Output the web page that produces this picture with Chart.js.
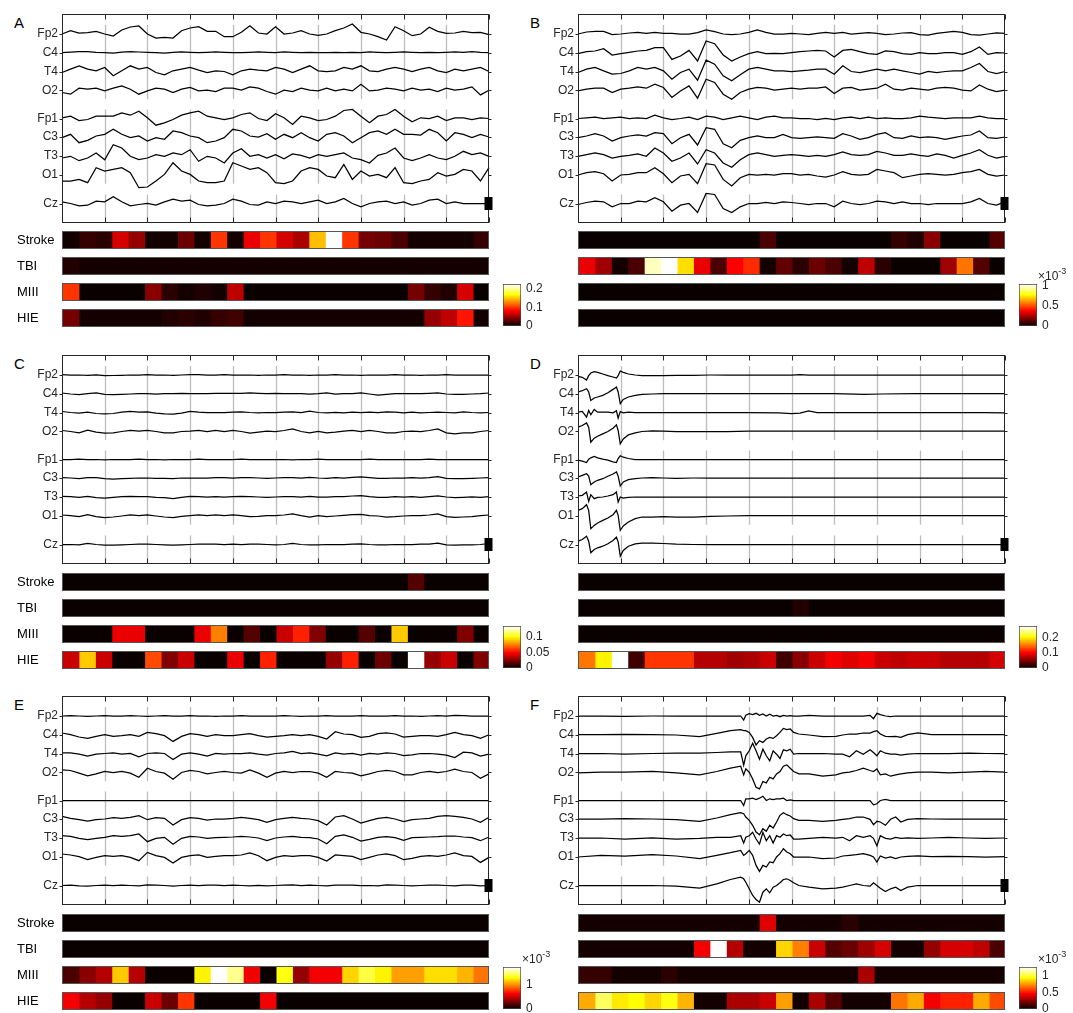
<!DOCTYPE html>
<html>
<head>
<meta charset="utf-8">
<script src="https://cdn.jsdelivr.net/npm/chart.js@4.4.1/dist/chart.umd.min.js"></script>
<style>
  body { margin:0; background:#fff; }
  #fig { position:relative; width:1073px; height:1013px; overflow:hidden; font-family:'Liberation Sans', Arial, sans-serif; }
  #fig canvas { position:absolute; }
  .letter { position:absolute; font-size:15px; line-height:15px; color:#000; }
</style>
</head>
<body>
<div id="fig"></div>
<script>
//
// Labels
var channels = ['Fp2', 'C4', 'T4', 'O2', 'Fp1', 'C3', 'T3', 'O1', 'Cz'];
var classes = ['Stroke', 'TBI', 'MIII', 'HIE'];

//
// Sample times (0..100 across the window)
var tUniform = [0,2,4,6,8,10,12,14,16,18,20,22,24,26,28,30,32,34,36,38,40,42,44,46,48,50,52,54,56,58,60,62,64,66,68,70,72,74,76,78,80,82,84,86,88,90,92,94,96,98,100];
var tD = [0,1,2,2.5,3,3.8,4.6,5.8,7,8.2,9,9.4,9.9,10.6,11.8,13.4,15,17.4,20,23,27,31,35,40,47,50,52,54,56,60,67,71,79,87,95,100];
var tF = [0,5.4,11,17.4,23,28.5,32.5,35.7,38.1,38.8,39.3,40.1,40.9,41.7,42.5,43.3,44.1,44.9,45.7,46.5,47.3,48.1,48.9,49.7,50.5,51.7,54.1,57.3,60.4,62,63.6,65.2,66.8,68.4,69.2,70,70.8,72,73.2,74.4,75.6,77.2,79.6,82.8,86.8,91.5,95.5,100];

//
// EEG traces (channel order Fp2, C4, T4, O2, Fp1, C3, T3, O1, Cz)
var eegA = [
  [0,3.3,1,1.3,2.7,0,-2,4,7,8,0,-4,-3.3,-4,3.3,6,7.3,2.7,2.7,-2.7,-2.7,1.7,8.3,1,0,7.3,0,1,3.3,0,-1.3,0,3.3,6,10,1.7,0,-2.7,-6,7.3,3.3,-1.7,0,6.7,2.7,0.7,1,2.7,1.3,1.7,-0.7],
  [0,0.5,1,1,0.3,0,-0.3,0.5,1,0.7,0.3,0,-0.3,0.3,0.7,0.3,0,0.3,0.7,0.3,0,0,0.3,0.7,0.3,0,0.7,0.3,0,0.3,0,0,0.3,0,0.3,0,0.7,0.3,0,0.3,0.7,0.3,0,0.3,0,0.3,0.7,0.3,1,0.3,0],
  [-1,2.3,5.7,2.3,0.7,4,-4.3,0.7,5.7,2.3,4,-1,-3.3,0.7,2.3,4,1.3,-1,0.7,0,-3.3,0.7,2.3,1.3,0.7,4,2.3,-1,2.3,5.7,0.7,0,0.7,4,2.3,5.7,0.7,0,2.3,4,2.3,0,2.3,4,0.7,-1,2.3,0.7,2.3,4,0],
  [-2.3,-4,2,1,2,-0.7,2,4.3,1,-4,-0.7,2,1,-2.3,1,2.7,-0.7,0,-1.3,2,2,0,3.3,2,-1.3,-4,0,-1.3,2,0,-0.7,2,-0.7,1,-0.7,6,-0.7,0,2,1,-0.7,2,0,1,-1.3,2,0,1,3.3,-4.7,0],
  [0.7,2.3,-2,-1,2.3,2.3,2.3,5.7,3.3,7.3,0.7,-6.7,-4.3,-1,3.3,5.7,7.3,2.3,0.7,-1,0.7,4,5.7,0,-2,4.7,0.7,-6,2.3,0.7,-2,-1,2.3,8,9,2.3,-4.3,2.3,4,9,2.3,-3.3,0.7,0,2.3,-2,0.7,0.7,-1,0.7,0],
  [-0.7,2.7,-5.7,-3.3,1,2.7,7.7,2.7,-0.7,1,-4,-0.7,-2.3,6,4.3,1,-0.7,-5.7,-4,-0.7,7.7,6,1,0,3.3,-2.3,2.7,-0.7,4.3,-0.7,-4,2.7,4.3,1,-5.7,-0.7,4.3,6,2.7,7.7,2.7,2.7,2,7.7,4.3,-4,4.3,2.7,-0.7,2.7,0],
  [-2,-0.3,-4.7,-2,3,-3.7,11.3,8,-0.3,-3.7,-2,1.3,-0.3,3,1.3,6.3,-5.3,-0.3,-2,-7,3,7.3,-0.3,1.3,-2,1.3,-2.7,2,0.7,-2,1.3,-0.3,1.3,3,-2,-3.7,-7,0.7,3,8,-2,-4.7,-2,1.3,-2,-3.7,-0.3,4.7,1.3,3,-0.3],
  [-6.3,-6.3,-4.7,-8,7,3.7,5.3,7,2,-13,-12.3,-6.3,0.3,12,3.7,0.3,-6.3,-8,-8,-6.3,12,8.7,5.3,7,2,-8,-9,-6.3,3.7,7,5.3,-1.3,-3,10.3,-4.7,3.7,-1.3,0.3,-3,7,-8,-9,-6.3,-4.7,2,-1.3,0.3,5.3,3.7,-6.3,7],
  [1.7,0,-2.3,-1.7,2.3,1.7,6.7,1.7,-2.3,-1,0,-1.7,1.7,4.3,2.3,3.3,-1,-2.3,-1.7,0,4.3,2.3,-1,-1.7,1.7,0,2.3,1.7,0,1.7,3.3,0,1.7,5,0,-3.3,0,1.7,2.3,0,1.7,-1.7,0,3.3,4.3,0,1.7,0,0,0,0]
];
var eegB = [
  [0,2,2.7,2.7,-0.7,0,1,1.7,0.7,1.7,0.7,0.7,0,0,1.3,4,2.3,0,-0.7,0,1.7,4,1.7,0,0,0.7,0,-0.7,0.7,1.7,0.7,1.7,0,0.7,1.3,0.7,-0.7,0,1,1.3,-0.7,-1,0.7,1.7,2.7,1.7,-0.7,-1,0,1,0.7],
  [-1,1,1.7,4,-2.3,-1,0.3,1.7,2.3,5,5,-6.7,-3.3,2.3,-8.3,11.7,9,-2.3,-8.3,-4.3,-1,1,-1,-0.7,-1,0,1,1.7,2.3,1.7,-4.3,2.3,3.3,1,-1,-1.7,1.7,1,-1,-1.7,0,-1,-1,0,0,-1.7,1,5.7,-1.7,0,-0.3],
  [-1,2.3,4,0.7,-2.7,-2,0.7,4,2.3,4,0.7,-7.7,-1,2.3,-8.7,11.3,7.3,-4.3,-9.3,-3.3,2.3,4,2.3,0.7,0.7,0,0.7,1.3,2.3,2.3,-2.7,5.7,0,-1,0.7,2.3,0.7,2.3,0.7,-1,-2.7,0,-1,0,0.7,0.7,4,8,0,-2,0],
  [-0.7,1,2,2,-2.3,1,2,3.3,2,6,2.7,-7.3,-0.7,4.3,-8,11,7.7,-4,-9,-2.3,1,2.7,2,0,1,2,1,2,2,3.3,-3.3,2,2.7,0,1,2,6,1,0,2,1,0,2,2.7,2,0,-0.7,5.3,1,-1.3,0],
  [0,0.7,1.3,0,0.7,1.3,0,0.7,0,3.3,0.7,-1,0,1.3,-1,2.3,1.3,-1,0.7,2.3,0.7,-1,1.3,2.3,0.7,0.7,0,0,-1,0,-1,0.7,1.3,0,1.3,0,0.7,0,0,0.7,2.3,1.3,0.7,0,0.7,0.7,0.7,2.3,0.7,0,0],
  [-0.7,1,3.3,1,-4,-0.7,1,2,1,4.3,3.3,-6.7,-0.7,2.7,-8,9.3,7.7,-6.7,-10.7,-3.3,-0.7,1,-0.7,-0.7,2.7,-0.7,-1.3,-0.7,0,-0.7,-1.3,3.3,1,-2.3,-0.7,2.7,4.3,-0.7,-1.3,1,-0.7,0,-0.7,-2.3,-0.7,1,2,6,-0.7,-1.3,0],
  [-0.3,1.3,3,1.3,-2,-0.3,0.7,2,-0.3,8,3,-5.3,-2,3,-8,6.3,3,-7,-11.3,-3.7,1.3,3,1.3,-0.3,0.7,1.3,0.7,-0.3,0.7,-0.3,1.3,4,1.3,0.7,1.3,4.7,3,0.7,0.7,2,0.7,-0.3,2,0.7,-2,0.7,3,6.3,0.7,-2,-0.3],
  [-0.3,2,3,1,-6.3,-0.3,0.3,2,2,7,1,-8,-1.3,0.3,-9,11,9.7,-4.7,-11.3,-3,0.3,-0.3,0.3,-0.3,1,1,-0.3,0.3,-1.3,-2.3,-0.3,3,0.3,-0.3,0.3,5.3,3.7,2,-3,-1.3,0.3,1,0.3,-0.3,0.3,2,3,5.3,0.3,-1.3,-0.3],
  [-1,1,2.3,1.7,-3.3,0,0,2.3,1.7,5.7,1.7,-7.7,-1.7,0,-9,10,9,-5,-9,-3.3,0,0,1,0,1.7,1,0,-1,0,0,-3.3,2.3,0,-1,0,2.3,1.7,0,1.7,0,0,-1,0,0,0,0,1.7,5,0,-1.7,1.7]
];
var eegC = [
  [0.3,0,0,-0.3,0,-0.7,-0.5,-0.3,0,0,0.3,0,0,-0.3,0,0.3,0.3,0,0,0.3,0,0,0,-0.3,0,0,0.3,0,0,-0.3,0,0,0.3,0,0,-0.3,0,0,0,0.3,0,0,-0.3,0,0,0.3,0,0,0,0,0],
  [0.7,-0.3,-1,0,0.7,-0.7,-1,-0.7,-0.3,0,0,-0.3,0,0,0.3,0,0,0,0.3,0.3,0.3,0.3,0.7,0.3,0,0.3,0,0,0,-0.3,0,0.7,-0.3,0,0,0.7,-0.3,-1.3,-0.7,0,0,0,0,0.3,0.7,-0.3,-0.7,-0.7,-0.3,0,0.7],
  [1,0,-0.7,0.3,-1,-1.3,-1,0.3,1,0.3,0.7,-0.7,-1.3,-1.7,-0.7,1,0.3,0,0,0,0.3,0.7,0,-0.3,0,0,0.3,0.7,0,1.3,0,-0.3,0,-0.3,0.3,0,0.3,0,0.7,0.3,-0.3,0.3,-0.3,0,0.3,0,-0.3,0.7,0,-0.3,0],
  [0.7,-0.3,-1.7,1,-1,-2,-1.7,-0.3,0.7,0,0.7,-0.3,-1.7,-1.7,-0.3,0,0.7,-0.3,0.7,-0.3,0.7,-0.3,-2,-1,0,-0.3,0.7,2.3,-0.3,-1.7,-0.3,-1.7,-1,0,0.7,-0.3,0.7,-0.3,-1.7,-1.7,-0.3,0,-0.3,0.7,2.3,-1.7,-2.7,-1.7,-1.7,-0.3,0.7],
  [0,0,0.3,0,0,-0.3,0,0,0,0.3,0,0,-0.3,0,0,0,0.3,0,0,0,0,0.3,0,0,0,0,0,-0.3,0,0,0.3,0,0,0,0,0,0.3,0,0,0,0,0,0,0.3,0,0,0,0,0,0,0],
  [0.3,0,-0.7,0.3,0.3,-0.7,-1,-0.7,-0.3,0,0,-0.3,-0.3,-0.7,0,0,0,0,0.3,0.3,0,0.3,0.3,0,-0.3,0,0.3,0.3,0,0.7,0,-0.3,0.3,0,0.7,1,0.3,-0.3,-0.3,0,0,0.3,0,0.3,1.3,-0.3,-0.7,-0.7,-0.3,0,0.3],
  [0.7,0.3,-0.3,0.7,-0.7,-1,-0.3,0.3,0.7,0.3,0.3,-0.3,-0.7,-1.7,-0.3,0.7,0.3,0,0.3,0,0.3,0.7,0.3,0,-0.3,0,0.3,0.3,0,0.7,0,0,0.3,0.3,1,1.3,0.3,-0.3,-0.3,0.3,0,0.3,-0.3,0.3,1,0,-0.7,-0.3,0,-0.3,0.3],
  [0.7,0,-1,1,-1,-2,-1.3,-0.3,0.7,0,0.7,-0.3,-1.3,-2,-0.7,0,0.7,0,0.7,0,0.7,0,-1,-0.7,0,0,0.7,1.7,0,-1.3,0,-1,-0.3,0.3,1,1.3,0,-0.3,-1.3,-1,-0.3,0,0,0.7,1.7,-1,-1.7,-1.3,-1,0,0.7],
  [0,0,-0.3,1,0,-0.7,-0.7,-0.3,0,0.3,0.3,0,-0.3,-0.7,-0.3,0,0.3,0.3,0.3,0,0.3,0,0.3,0.3,0,-0.3,0,1,0,-0.3,-0.3,0,0,0,0.3,0.7,0,-0.3,-0.3,0,0,0,0.3,0.3,1.3,-0.3,-0.7,-0.3,-0.3,0,1]
];
var eegD = [
  [-1.3,-2.3,-5,-0.7,2,3.3,2.7,1,-0.7,-2,-3,-0.7,4,2.7,1,0,-0.7,-0.7,-0.7,-0.3,-0.3,0,0,0,0,0,0.3,0,0,0,0,0,0,0,0,0],
  [1.7,3,5,1.7,-6.7,-4.3,-3.3,-1.7,1,4.3,6.7,1.7,-10,-5.7,-3.3,-1.7,-0.7,-0.3,0,0,0,0,0,0,0,0,0,0,0,0,-0.7,-0.3,0,0,0,0],
  [0.3,1,-4.7,2,-2.3,3,0.3,0.3,0.3,-0.3,1.7,-5.7,1,-0.3,0.3,0,0,0,0,0,0,0,0,0,-0.3,-1,-0.7,1.7,0,0,0,0,0,0,0,-0.3],
  [4,5.7,8.3,4,-11,-7,-5,-2.7,-0.3,3,6.3,0.7,-12.7,-7.7,-3.7,-1.7,-0.3,0.3,0,-0.3,-0.3,-0.3,-0.3,0,0,0,0,0,0,0,0,0,0,0,0,0],
  [-0.7,-1.7,-3,0.3,1.7,3,1.7,0.3,-0.7,-2.3,-3,1,3.7,2.3,1,0,0,0,0,0,0,0,0,0,0,0,0,0,0,0,0,0,0,0,0,0],
  [1,2.7,4.3,2,-6.7,-4,-2.3,-0.7,1.7,4,6,2,-8,-4,-1.7,-0.7,0,0.3,0,-0.3,0,0,0,0,0,0,0,0,0,0,0,0,0,0,0,0],
  [1,1.7,5,-4.3,2.3,-1.7,-0.3,0,1,2.3,5,-5,0,-1,-0.3,0,0,0,0,0,0,0,0,0,0,0,0,0,0,0,0,0,0,0,0,0],
  [5.3,7,11,5.3,-13,-9.7,-7.3,-4.7,-2.3,1,5.3,0.3,-14.7,-10.3,-6.3,-3,-1.3,-1.3,-1,-1.3,-1.3,-0.7,-0.3,0,0,0,0,0,0,0,0,0,0,0,0,0],
  [3.3,5,8.3,3.3,-8.3,-5,-3.3,-1.7,0.7,4,7.3,2.7,-11.7,-6,-1.7,0.7,1.3,1.3,1,0.3,0,0,0,0,0,0,0,0,0,0,0,0,0,0,0,0]
];
var eegE = [
  [0,0.3,0,-0.3,0,0.3,0,0,0.3,0,-0.3,0,0.3,0,0,0.3,0,0,-0.3,0,0,0.3,0,0,0,0,0.3,0,-0.3,0,0,0.3,0,0,0,0.3,0,0,0,0.3,0,0,-0.3,0,0.3,0,0.7,0.3,0,0,0],
  [1.7,0,-2.3,-3.7,-1.7,0,-1.7,-1,0,-1.7,2.3,1,-1,-6.7,-1.7,1,0,-1.7,0,-1,-1,0,1,-1,-2.3,-1.7,-1,0,-1,0,-1.7,-4.3,3,0.7,0,-2.7,-1.7,1,1.7,0.7,-2.3,-1.7,-1,-1,-1.7,0,2.3,0,-1,-3.7,0],
  [0.7,0.7,-0.7,-2.7,-0.7,0,0.7,-0.7,0,-3.3,0,0.7,0,-6,-0.7,0.7,-0.7,-2.7,0,-0.7,0,0,0.7,-0.7,-1.7,0,0.7,2,0,0.7,-0.7,-2.3,0.7,-0.7,0,-1.7,0,-0.7,0.7,0,-2,-1.3,0,0,-0.7,-1.7,-4,1.3,0.7,-2.7,-0.7],
  [2.3,1.7,-1,-3.7,-1.7,0.7,-0.3,0.7,-1,-5,4,0.7,-1,-7,-0.3,1.7,0.7,-1.7,-0.3,0.7,-0.3,-1,2.3,-1,-5,-1,0.7,-0.3,0.7,0.7,-1,-5,0.7,-0.3,-1,-3.7,-1.7,0.7,1.7,0.7,-2.7,-2.7,-0.3,0.7,-0.3,0.7,3,0.7,-0.3,-6,-1.7],
  [0,0,0,0,0,0,0,0,0,0,0,0,0,0,0,0,0,0,0,0,0,0,0,0,0,0,0,0,0,0,0,0,0,0,0,0,0,0,0,0,0,0,0,0,0,0,0,0,0,0,0],
  [2.7,0.7,-0.7,-2,-0.7,0,1.3,0.7,1.7,3.3,-0.7,1.3,0.7,-6,-0.7,1.3,0.7,-1,0,0,0.7,1.7,0.7,-0.7,-3.3,-0.7,0.7,1.7,0.7,0,-1.7,-6,2,3.3,0,-4,-1.7,0.7,1.7,0,-2.7,-0.7,0,0.7,2.7,3.3,2.7,1.7,0,-3.3,1.7],
  [2.3,1.7,-0.3,-1.7,-0.3,0.7,2.3,1.7,2.3,4,-3.7,-0.3,0.7,-6.3,-0.3,1.7,1,-0.3,0.3,0.7,1,1.7,1,0,-2.7,0,1,1.7,0.7,0.3,-1,-5.7,1.7,3,0.7,-3,-1.3,0.7,1.3,0.3,-2.3,0.3,0.7,1,1.3,2,2,1,0.3,-2.7,1],
  [2.7,1.7,0,-3,-0.7,1,0.3,1,-0.7,-4,4.3,1,-0.7,-6.3,-0.7,1,1.7,-0.7,0.3,1,1,1.7,3.7,1,-4,-0.7,1,0.3,1,1,-0.7,-4.3,1.7,1,0.3,-3,-0.7,1.7,2.7,1,-3,-1.7,0.3,1,0.3,1.7,3.7,1,0.3,-5.7,-0.7],
  [0,0.3,-0.3,-0.7,0,0.3,0,0.3,0,-0.3,0.7,0.3,0,-0.7,0,0.3,0,0.3,0.3,0,0.3,0,-0.3,0,-0.3,0,0.3,0.7,0,0.3,0,-0.3,0.3,0.3,0.3,0,0,-0.3,0.7,0.3,0,-0.3,0,0.3,0.3,0,-0.3,0.3,0.3,-0.3,0]
];
var eegF = [
  [0,0,-0.3,0,0,0,0,0,0,-4,0.7,2.3,1.3,2.7,0.7,2,0,1.7,0,0.7,-0.7,0.7,0,0.3,0,0,0.7,0,0,0,0,0,0,0.7,-2.7,2.7,1.3,0,-0.7,0,0,0,0,0,0,0,0,0],
  [0,0,0.3,0,-0.3,-2,1.3,4,5,4,4,2.3,-2.7,-10.3,-6,-7.7,-4.3,-2.7,-3.7,-1,2.3,6.3,5,5.7,2.3,0.7,-0.3,-2,-1.7,-0.3,0.7,0.7,1.7,1.7,3,4,0.7,-1.7,-2,-1.7,-2.7,0,1.7,0,0,0,0,0],
  [0,0,-0.7,0,0.3,0.3,1,1.7,1.7,-11.7,-2.3,2.7,10.3,2.7,-5.7,4.3,-2.3,-7.3,2.7,-0.7,-5,3.7,2.7,4.3,-0.7,0,0,0,-0.7,-0.7,-3.3,2.7,-0.7,3.7,1,-2.3,2.7,0.3,-0.7,-0.7,-1.7,-0.7,0,0,0,0.3,0,0],
  [-0.7,0,0,0.7,-0.7,-2.7,0.7,4,6,-2.7,3.3,0,-6.7,-15,-16.7,-9.3,-10.7,-5,-6.7,-1.7,0.7,6,7.3,4,0.7,-1.7,-1.7,-4,-2.7,-0.7,0,1.7,4,1.7,0.7,3.3,-2.7,-1.7,-4,-2.7,-1.7,-0.7,0,0,-0.7,0,0.7,0],
  [0,0,0,0,0,0,0,0,0,-5,1.7,1.7,2.3,1,2.3,4.3,0,1.7,1,1.7,1.7,2.3,0,0.7,0,0,0,0,0,0,0,0,0,0,-4.3,-3.3,0,1,0,0,0,0,0,0,0,0,0,0],
  [0,0,0.3,0,-0.7,-2.3,1,4.3,6.3,5.3,2,-1.3,-6.3,-13,-15.7,-9.7,-12.3,-6.3,-9,-3,3.7,6.3,4.3,3,0.3,-1.3,-1.3,-2.3,-1.3,-0.3,0.3,2,2,-0.3,-5.7,-2.3,-3,-6.3,-0.3,2,-3,-0.3,0.3,0,0,0,0,0],
  [0,0,-1,0,-1,-0.3,0.7,0.7,2.3,-5,0.7,2.3,5.7,-1,-6,5.7,-2.7,2.3,-5,2.3,0.7,4,2.3,3,-1,-1,-0.3,0.7,0,0.7,-2.7,2.3,0.7,2.3,-0.3,-7.7,2.3,-0.3,-1,0.7,-0.3,0,-0.3,0,0.7,0,-0.3,0],
  [-0.3,1.3,0.7,2,0.7,-2,1.3,4,6.3,1.3,3,6.3,1.3,-8.7,-14.7,-8.7,-10.3,-5.3,-6,-0.3,3,8,4.7,3,-0.3,-0.3,-0.3,-2,-1.3,0.7,1.3,2,3,1.3,-0.3,-5.3,0.7,-1.3,-0.3,-2,-0.3,0.3,0.7,0,0.3,0,-0.3,0],
  [0,0,0,0,-0.7,-2.7,1.7,6,8.3,6.7,3.3,-3.3,-10,-14,-16.7,-6.7,-3.3,-7.3,-1.7,0,2.7,6,6.7,5,2.7,0,-1.7,-3.3,-2.7,-1.7,0,1.7,0,-0.7,2.7,0,-2.7,-6,-3.3,-1.7,-5,-1.7,0,0,0,0,0,0]
];

//
// Class probability maps (26 windows each)
var strokeA = [0.005,0.016,0.014,0.068,0.049,0.005,0.005,0.034,0.004,0.10,0.004,0.075,0.10,0.068,0.056,0.145,0.225,0.10,0.038,0.032,0.022,0.006,0.005,0.005,0.005,0.016];
var tbiA    = [0.01,0.004,0.004,0.004,0.004,0.004,0.004,0.004,0.004,0.004,0.004,0.004,0.004,0.004,0.004,0.004,0.004,0.004,0.004,0.004,0.004,0.004,0.004,0.007,0.004,0.004];
var miiiA   = [0.10,0.003,0.003,0.003,0.003,0.045,0.013,0.004,0.01,0.004,0.062,0.003,0.003,0.003,0.003,0.003,0.003,0.003,0.003,0.003,0.003,0.038,0.016,0.01,0.068,0.003];
var hieA    = [0.038,0.004,0.004,0.004,0.004,0.004,0.01,0.013,0.01,0.016,0.02,0.004,0.004,0.004,0.004,0.004,0.004,0.004,0.004,0.004,0.004,0.004,0.048,0.062,0.088,0.004];

var strokeB = [0.01,0.01,0.01,0.01,0.01,0.01,0.01,0.01,0.01,0.01,0.01,0.1,0.01,0.01,0.01,0.01,0.01,0.01,0.01,0.07,0.04,0.2,0.01,0.01,0.01,0.12];
var tbiB    = [0.34,0.24,0.02,0.1,0.95,1.03,0.71,0.34,0.1,0.38,0.45,0.02,0.13,0.05,0.15,0.1,0.02,0.28,0.05,0.01,0.01,0.01,0.23,0.56,0.12,0.01];
var miiiB   = [0.01,0.01,0.01,0.01,0.01,0.01,0.01,0.01,0.01,0.01,0.01,0.01,0.01,0.01,0.01,0.01,0.01,0.01,0.01,0.01,0.01,0.01,0.01,0.01,0.01,0.01];
var hieB    = [0.01,0.01,0.01,0.01,0.01,0.01,0.01,0.01,0.01,0.01,0.01,0.01,0.01,0.01,0.01,0.01,0.01,0.01,0.01,0.01,0.01,0.01,0.01,0.01,0.01,0.01];

var strokeC = [0.002,0.002,0.002,0.002,0.002,0.002,0.002,0.002,0.002,0.002,0.002,0.002,0.002,0.002,0.002,0.002,0.002,0.002,0.002,0.002,0.002,0.016,0.002,0.002,0.002,0.002];
var tbiC    = [0.002,0.002,0.002,0.002,0.002,0.002,0.002,0.002,0.002,0.002,0.002,0.002,0.002,0.002,0.002,0.002,0.002,0.002,0.002,0.002,0.002,0.002,0.002,0.002,0.002,0.002];
var miiiC   = [0.002,0.002,0.002,0.044,0.044,0.002,0.002,0.002,0.044,0.075,0.002,0.016,0.002,0.038,0.055,0.025,0.002,0.002,0.016,0.002,0.088,0.002,0.002,0.002,0.025,0.002];
var hieC    = [0.038,0.088,0.038,0.002,0.002,0.063,0.025,0.038,0.002,0.002,0.044,0.002,0.055,0.002,0.002,0.002,0.028,0.055,0.002,0.019,0.002,0.134,0.028,0.038,0.002,0.025];

var strokeD = [0.003,0.003,0.003,0.003,0.003,0.003,0.003,0.003,0.003,0.003,0.003,0.003,0.003,0.003,0.003,0.003,0.003,0.003,0.003,0.003,0.003,0.003,0.003,0.003,0.003,0.003];
var tbiD    = [0.003,0.003,0.003,0.003,0.003,0.003,0.003,0.003,0.003,0.003,0.003,0.003,0.003,0.012,0.003,0.003,0.003,0.003,0.003,0.003,0.003,0.003,0.003,0.003,0.003,0.003];
var miiiD   = [0.003,0.003,0.003,0.003,0.003,0.003,0.003,0.003,0.003,0.003,0.003,0.003,0.003,0.003,0.003,0.003,0.003,0.003,0.003,0.003,0.003,0.003,0.003,0.003,0.003,0.003];
var hieD    = [0.15,0.205,0.28,0.026,0.124,0.124,0.126,0.073,0.07,0.063,0.066,0.079,0.026,0.053,0.079,0.098,0.089,0.098,0.079,0.077,0.079,0.082,0.073,0.073,0.07,0.085];

var strokeE = [0.01,0.01,0.01,0.01,0.01,0.01,0.01,0.01,0.01,0.01,0.01,0.01,0.01,0.01,0.01,0.01,0.01,0.01,0.01,0.01,0.01,0.01,0.01,0.01,0.01,0.01];
var tbiE    = [0.01,0.01,0.01,0.01,0.01,0.01,0.01,0.01,0.01,0.01,0.01,0.01,0.01,0.01,0.01,0.01,0.01,0.01,0.01,0.01,0.01,0.01,0.01,0.01,0.01,0.01];
var miiiE   = [0.16,0.32,0.44,1.12,0.44,0.02,0.02,0.02,1.24,1.7,1.49,0.6,0.02,1.3,0.36,0.6,0.6,1.15,1.36,1.24,1.02,1.02,1.19,1.17,1.07,0.92];
var hieE    = [0.6,0.44,0.36,0.02,0.02,0.48,0.24,0.76,0.02,0.02,0.02,0.02,0.6,0.02,0.02,0.02,0.02,0.02,0.02,0.02,0.02,0.02,0.02,0.02,0.02,0.02];

var strokeF = [0.02,0.02,0.02,0.02,0.02,0.02,0.02,0.02,0.02,0.02,0.02,0.41,0.02,0.02,0.02,0.02,0.06,0.02,0.02,0.02,0.02,0.02,0.02,0.02,0.02,0.02];
var tbiF    = [0.02,0.02,0.02,0.02,0.02,0.02,0.02,0.43,1.25,0.33,0.02,0.02,0.84,0.69,0.37,0.15,0.18,0.28,0.39,0.02,0.02,0.26,0.39,0.39,0.34,0.12];
var miiiF   = [0.09,0.09,0.02,0.02,0.02,0.06,0.02,0.02,0.02,0.02,0.02,0.02,0.02,0.02,0.02,0.02,0.02,0.3,0.02,0.02,0.02,0.02,0.02,0.02,0.02,0.02];
var hieF    = [0.78,1.05,0.88,0.92,0.84,0.95,0.79,0.02,0.02,0.3,0.3,0.36,0.76,0.02,0.3,0.15,0.02,0.02,0.02,0.68,0.78,0.44,0.51,0.51,0.78,0.59];

//
// Colorbar tick labels
var cbTicksA = [0, 0.1, 0.2];
var cbTicksB = [0, 0.5, 1];
var cbTicksC = [0, 0.05, 0.1];
var cbTicksD = [0, 0.1, 0.2];
var cbTicksE = [0, 1];
var cbTicksF = [0, 0.5, 1];

var panels = [
    { letter: 'A', col: 0, row: 0, t: tUniform, eeg: eegA, heat: [strokeA, tbiA, miiiA, hieA], ticks: cbTicksA, exp: false },
    { letter: 'B', col: 1, row: 0, t: tUniform, eeg: eegB, heat: [strokeB, tbiB, miiiB, hieB], ticks: cbTicksB, exp: true },
    { letter: 'C', col: 0, row: 1, t: tUniform, eeg: eegC, heat: [strokeC, tbiC, miiiC, hieC], ticks: cbTicksC, exp: false },
    { letter: 'D', col: 1, row: 1, t: tD, eeg: eegD, heat: [strokeD, tbiD, miiiD, hieD], ticks: cbTicksD, exp: false },
    { letter: 'E', col: 0, row: 2, t: tUniform, eeg: eegE, heat: [strokeE, tbiE, miiiE, hieE], ticks: cbTicksE, exp: true },
    { letter: 'F', col: 1, row: 2, t: tF, eeg: eegF, heat: [strokeF, tbiF, miiiF, hieF], ticks: cbTicksF, exp: true }
];

//
// Layout
var COL_X = [62, 578];
var ROW_T = [13.5, 354.8, 696];
var AX_W = 427;
var EEG_H = 209;
var OFFSETS = [20, 38.7, 57.5, 76.2, 104.5, 123, 142, 160.7, 189.5];
var GRID_GROUPS = [[0, 3], [4, 7], [8, 8]];
var SCALE_BAR = 13;
var HEAT_TOP = 213.7, HEAT_PITCH = 26, ROW_THICK = 18, N_WIN = 26;
var CB_TOP = 270.7, CB_H = 42, CB_W = 18;
var FONT = "'Liberation Sans', Arial, sans-serif";

Chart.defaults.font.family = FONT;
Chart.defaults.animation = false;
Chart.defaults.events = [];
Chart.defaults.plugins.legend.display = false;
Chart.defaults.plugins.tooltip.enabled = false;

var fig = document.getElementById('fig');

function makeCanvas(left, top, w, h) {
    var c = document.createElement('canvas');
    c.width = w; c.height = h;
    c.style.left = left + 'px'; c.style.top = top + 'px';
    c.style.width = w + 'px'; c.style.height = h + 'px';
    fig.appendChild(c);
    return c.getContext('2d');
}

// MATLAB "hot" with 64 levels
function hot(f) {
    f = Math.max(0, Math.min(1, f));
    var k = Math.min(64, Math.floor(f * 64) + 1);
    var r = Math.min(1, k / 24), g = Math.max(0, Math.min(1, (k - 24) / 24)), b = Math.max(0, Math.min(1, (k - 48) / 16));
    return 'rgb(' + Math.round(r * 255) + ',' + Math.round(g * 255) + ',' + Math.round(b * 255) + ')';
}

//
// EEG frame: segmented grid, box, ticks, scale bar
var eegFrame = {
    id: 'eegFrame',
    beforeDatasetsDraw: function(chart) {
        var ctx = chart.ctx, a = chart.chartArea, x = chart.scales.x, y = chart.scales.y;
        ctx.save();
        ctx.strokeStyle = '#bdbdbd';
        ctx.lineWidth = 1.3;
        for (var t = 10; t < 100; t += 10) {
            var px = Math.round(x.getPixelForValue(t)) + 0.5;
            GRID_GROUPS.forEach(function(g) {
                var ya = y.getPixelForValue(OFFSETS[g[0]] - 9);
                var yb = g[1] === 8 ? a.bottom : y.getPixelForValue(OFFSETS[g[1]] + 9);
                ctx.beginPath(); ctx.moveTo(px, ya); ctx.lineTo(px, yb); ctx.stroke();
            });
        }
        ctx.restore();
    },
    afterDatasetsDraw: function(chart) {
        var ctx = chart.ctx, a = chart.chartArea, x = chart.scales.x, y = chart.scales.y;
        var L = Math.round(a.left) + 0.5, R = Math.round(a.right) - 0.5, T = Math.round(a.top) + 0.5, B = Math.round(a.bottom) - 0.5;
        ctx.save();
        ctx.strokeStyle = '#262626';
        ctx.lineWidth = 1;
        ctx.strokeRect(L, T, R - L, B - T);
        ctx.beginPath();
        for (var t = 0; t <= 100; t += 10) {
            var px = Math.round(x.getPixelForValue(t)) + 0.5;
            ctx.moveTo(px, T); ctx.lineTo(px, T + 5);
            ctx.moveTo(px, B); ctx.lineTo(px, B - 5);
        }
        OFFSETS.forEach(function(o) {
            var py = Math.round(y.getPixelForValue(o)) + 0.5;
            ctx.moveTo(L - 3, py); ctx.lineTo(L, py);
            ctx.moveTo(R, py); ctx.lineTo(R + 3, py);
        });
        ctx.stroke();
        // scale bar at the end of Cz
        var y0 = y.getPixelForValue(OFFSETS[8] - SCALE_BAR / 2), y1 = y.getPixelForValue(OFFSETS[8] + SCALE_BAR / 2);
        ctx.fillStyle = '#000';
        ctx.fillRect(R - 4, y0, 8, y1 - y0);
        ctx.restore();
    }
};

//
// Heatmap row boxes
var rowBoxes = {
    id: 'rowBoxes',
    afterDatasetsDraw: function(chart) {
        var ctx = chart.ctx, x = chart.scales.x, y = chart.scales.y;
        var l = Math.round(x.getPixelForValue(0)) + 0.5, r = Math.round(x.getPixelForValue(N_WIN)) - 0.5;
        ctx.save();
        ctx.strokeStyle = '#555';
        ctx.lineWidth = 1;
        classes.forEach(function(c, i) {
            var yc = Math.round(y.getPixelForValue(i));
            ctx.strokeRect(l, yc - ROW_THICK / 2 + 0.5, r - l, ROW_THICK - 1);
        });
        ctx.restore();
    }
};

//
// Colorbar exponent label
var cbExponent = {
    id: 'cbExponent',
    afterDraw: function(chart, args, opts) {
        if (!opts.show) return;
        var ctx = chart.ctx, a = chart.chartArea;
        ctx.save();
        ctx.fillStyle = '#262626';
        ctx.textBaseline = 'alphabetic';
        ctx.font = '12px ' + FONT;
        ctx.fillText('\u00d710', a.right + 1, a.top - 4);
        var w = ctx.measureText('\u00d710').width;
        ctx.font = '9px ' + FONT;
        ctx.fillText('-3', a.right + 1 + w, a.top - 10);
        ctx.restore();
    }
};

panels.forEach(function(p) {
    var x0 = COL_X[p.col], T = ROW_T[p.row];

    // panel letter
    var d = document.createElement('div');
    d.className = 'letter';
    d.textContent = p.letter;
    d.style.left = (x0 - 48) + 'px';
    d.style.top = (T + 1) + 'px';
    fig.appendChild(d);

    //
    // EEG traces
    var LABW = 44, PAD = 4;
    var ctxE = makeCanvas(Math.round(x0) - LABW, Math.round(T) - PAD, LABW + AX_W + 12, EEG_H + 2 * PAD);
    new Chart(ctxE, {
        type: 'line',
        data: {
            datasets: p.eeg.map(function(vals, ci) {
                return {
                    data: vals.map(function(v, j) { return { x: p.t[j], y: OFFSETS[ci] - v }; }),
                    borderColor: '#000',
                    borderWidth: 1.25,
                    pointRadius: 0,
                    tension: 0,
                    fill: false
                };
            })
        },
        options: {
            responsive: false,
            clip: false,
            layout: { padding: { left: 0, top: PAD, right: 12, bottom: PAD } },
            scales: {
                x: { type: 'linear', min: 0, max: 100, display: false },
                y: {
                    type: 'linear', min: 0, max: EEG_H, reverse: true,
                    grid: { display: false, drawTicks: false }, border: { display: false },
                    afterBuildTicks: function(s) { s.ticks = OFFSETS.map(function(v) { return { value: v }; }); },
                    afterFit: function(s) { s.width = LABW; s.paddingTop = 0; s.paddingBottom = 0; },
                    ticks: {
                        padding: 4, color: '#262626', font: { size: 12 },
                        callback: function(v, i) { return channels[i]; }
                    }
                }
            }
        },
        plugins: [eegFrame]
    });

    //
    // Class heatmap: one floating bar per window, slightly overlapping the next to avoid seams
    var HLABW = p.col === 0 ? 45 : 0;
    var ctxH = makeCanvas(Math.round(x0) - HLABW, Math.round(T + HEAT_TOP) - 2, HLABW + AX_W + 4, 4 * HEAT_PITCH + 4);
    var cmax = Math.max.apply(null, [].concat.apply([], p.heat));
    var sets = [];
    for (var j = 0; j < N_WIN; j++) {
        sets.push({
            data: p.heat.map(function() { return [j, j + 1.06]; }),
            backgroundColor: p.heat.map(function(row) { return hot(row[j] / cmax); }),
            borderWidth: 0,
            inflateAmount: 0,
            barThickness: ROW_THICK,
            grouped: false
        });
    }
    new Chart(ctxH, {
        type: 'bar',
        data: { labels: classes, datasets: sets },
        options: {
            responsive: false,
            indexAxis: 'y',
            layout: { padding: { left: 0, top: 2, right: 4, bottom: 2 } },
            scales: {
                x: { min: 0, max: N_WIN, display: false },
                y: {
                    display: p.col === 0,
                    grid: { display: false, drawTicks: false }, border: { display: false },
                    afterFit: function(s) { s.width = HLABW; s.paddingTop = 0; s.paddingBottom = 0; },
                    ticks: { crossAlign: 'far', color: '#000', font: { size: 13 } }
                }
            }
        },
        plugins: [rowBoxes]
    });

    //
    // Colorbar
    var CB_LAB = 50, CB_PT = 22, CB_PB = 8;
    var ctxC = makeCanvas(Math.round(x0 + AX_W + 14), Math.round(T + CB_TOP) - CB_PT, CB_W + CB_LAB, CB_H + CB_PT + CB_PB);
    new Chart(ctxC, {
        type: 'bar',
        data: {
            labels: [''],
            datasets: [{
                data: [cmax],
                backgroundColor: function(c) {
                    var a = c.chart.chartArea;
                    if (!a) return '#000';
                    var g = c.chart.ctx.createLinearGradient(0, a.bottom, 0, a.top);
                    for (var k = 0; k < 64; k++) {
                        var col = hot((k + 0.5) / 64);
                        g.addColorStop(k / 64, col);
                        g.addColorStop((k + 1) / 64, col);
                    }
                    return g;
                },
                borderColor: '#444',
                borderWidth: 1,
                borderSkipped: false,
                barPercentage: 1,
                categoryPercentage: 1
            }]
        },
        options: {
            responsive: false,
            layout: { padding: { left: 0, top: CB_PT, right: 0, bottom: CB_PB } },
            scales: {
                x: { display: false },
                y: {
                    position: 'right', min: 0, max: cmax,
                    grid: { display: false, drawTicks: false }, border: { display: false },
                    afterBuildTicks: function(s) { s.ticks = p.ticks.map(function(v) { return { value: v }; }); },
                    afterFit: function(s) { s.width = CB_LAB; s.paddingTop = 0; s.paddingBottom = 0; },
                    ticks: {
                        padding: 5, color: '#262626', font: { size: 12 },
                        callback: function(v) { return String(v); }
                    }
                }
            },
            plugins: { cbExponent: { show: p.exp } }
        },
        plugins: [cbExponent]
    });
});
</script>
</body>
</html>
